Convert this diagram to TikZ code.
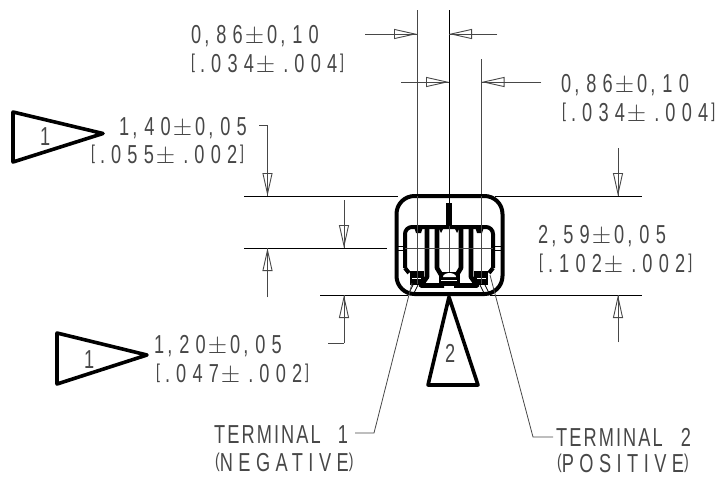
\documentclass[tikz,border=0pt]{standalone}
\usepackage{fontspec}
\setmainfont{Liberation Sans}[FakeStretch=0.7,LetterSpace=24]
\newfontfamily\termfont{Liberation Sans}[FakeStretch=0.7,LetterSpace=8]
\newfontfamily\polefont{Liberation Sans}[FakeStretch=0.7,LetterSpace=21]
\usepackage{tikz}
\usetikzlibrary{positioning}
\usetikzlibrary{arrows.meta}
\colorlet{dimcol}{black!72}
\newcommand{\brk}[1]{\raisebox{4pt}{\fontsize{20}{24}\selectfont #1}}
\newcommand{\cma}{\kern3pt,\kern7pt}
\newcommand{\dt}{\kern5pt.\kern6pt}
\newcommand{\plm}{\kern2pt$\pm$\kern3pt}
\tikzset{
  extline/.style={line width=1pt, black},
  dimline/.style={line width=0.9pt, dimcol, -{Triangle[open, length=23pt, width=10pt, line width=0.9pt]}, postaction={draw, -}},
  leader/.style={line width=0.8pt, dimcol},
  flag/.style={line width=3.6pt, line join=round, line cap=round},
  body/.style={line width=4pt, line join=round},
  dimtext/.style={anchor=base west, inner sep=0pt, text=dimcol, font=\fontsize{26}{30}\selectfont},
}

\begin{document}
\begin{tikzpicture}[x=1pt, y=-1pt]
\useasboundingbox (0,0) rectangle (723,477);

% Extension lines, vertical
\coordinate (E1) at (417,10);
\coordinate (E2) at (449,10);
\coordinate (E3) at (481.5,59);
\draw[extline, dimcol] (E1) -- (417,196);
\draw[extline] (E2) -- (449,204);
\draw[extline, dimcol] (E3) -- (481.5,196);

% Extension lines, horizontal
\draw[extline] (244,196) -- (398,196);
\draw[extline] (495,196) -- (642,196);
\draw[extline] (244,248) -- (387,248);
\draw[extline] (320,295) -- (408,295);
\draw[extline] (490,295) -- (642,295);

% Widths
\draw[dimline] (365,34) -- (E1 |- 0,34);
\draw[dimline] (497,34) -- (E2 |- 0,34);
\draw[dimline] (401,82) -- (E2 |- 0,82);
\draw[dimline] (541,82) -- (E3 |- 0,82);

% Heights
\draw[leader] (259,125) -- (267.5,125);
\draw[dimline] (267.5,125) -- (267.5,196);
\draw[dimline] (267.5,297) -- (267.5,248);
\draw[dimline] (344,200) -- (344,248);
\draw[leader] (328,343) -- (344,343);
\draw[dimline] (344,343) -- (344,295);
\draw[dimline] (618,148) -- (618,196);
\draw[dimline] (618,342) -- (618,295);

% Package outline
\draw[body, rounded corners=18pt] (396.5,196) rectangle (502.5,294);
\draw[body, rounded corners=7pt] (405,268) -- (405,227) -- (493,227) -- (493,268);

% Stem and side tabs
\draw[line width=5.5pt] (449,203) -- (449,226);
\draw[line width=1.8pt] (396,246.5) -- (405,246.5) (396,250.5) -- (405,250.5);
\draw[line width=1.8pt] (493,246.5) -- (503,246.5) (493,250.5) -- (503,250.5);

% Both halves of the inner parts
\foreach \side in {1,-1} {
  \begin{scope}[shift={(449,0)}, xscale=\side]
    \draw[body] (44,268) -- (40,273);
    \draw[body, line width=4.6pt] (22,227) -- (22,277) -- (28,285.5) -- (5,285.5);
    \draw[body, line width=4.6pt] (12,227) -- (12,268) -- (6,278);
    \fill (25,271) rectangle (39,285);
    \fill[white] (28,278) rectangle (37,279.4);
    \fill (26,227) -- (35,227) -- (33,233) -- (28,233) -- cycle;
    \fill (5,227) -- (11,227) -- (8,233) -- cycle;
    \draw[line width=0.8pt] (36,285) -- (40,293);
    \draw[line width=0.8pt] (31,285) -- (35,293);
    \draw[line width=0.8pt, dimcol] (32,196) -- (32,284);
  \end{scope}
}
\fill (439,272) -- (460,272) -- (460,286) -- (439,286) -- cycle;
\fill[white] (443,277) arc (180:360:6.5 and 4) -- cycle;
\fill[white] (441,279.5) rectangle (457,281);
\draw[extline, dimcol] (449,226) -- (449,272);
\draw[extline, dimcol] (405,248) -- (493,248);

% Flag notes
\coordinate (T1a) at (13,112);
\coordinate (T1b) at (103,133.5);
\coordinate (T1c) at (13,162);
\draw[flag] (T1a) -- (T1b) -- (T1c) -- cycle;
\node[dimtext] (flagA) at (40,145) {1};

\coordinate (T2a) at (57,333);
\coordinate (T2b) at (147,355);
\coordinate (T2c) at (57,384);
\draw[flag] (T2a) -- (T2b) -- (T2c) -- cycle;
\node[dimtext] (flagB) at (84,368) {1};

\coordinate (T3a) at (449,297);
\coordinate (T3b) at (478,385);
\coordinate (T3c) at (428,385);
\draw[flag] (T3a) -- (T3b) -- (T3c) -- cycle;
\node[dimtext] (flagC) at (445,362) {2};

% Dimension values
\node[dimtext] (widthA) at (191,43) {0\cma 86\plm 0\cma 10};
\node[dimtext] (widthAin) at (191,72) {\brk{[}\dt 034\plm\dt 004\kern3pt\brk{]}};
\node[dimtext] (widthB) at (561,92) {0\cma 86\plm 0\cma 10};
\node[dimtext] (widthBin) at (562,121) {\brk{[}\dt 034\plm\dt 004\kern3pt\brk{]}};
\node[dimtext] (heightA) at (119,135) {1\cma 40\plm 0\cma 05};
\node[dimtext] (heightAin) at (91,163) {\brk{[}\dt 055\plm\dt 002\kern3pt\brk{]}};
\node[dimtext] (heightB) at (154,353) {1\cma 20\plm 0\cma 05};
\node[dimtext] (heightBin) at (156,382) {\brk{[}\dt 047\plm\dt 002\kern3pt\brk{]}};
\node[dimtext] (heightC) at (538,243) {2\cma 59\plm 0\cma 05};
\node[dimtext] (heightCin) at (539,272) {\brk{[}\dt 102\plm\dt 002\kern3pt\brk{]}};

% Terminals
\node[dimtext] (termA) at (214,443) {\termfont TERMINAL\kern17pt 1};
\node[dimtext] (termAsub) at (215,471) {\polefont\brk{(}NEGATIVE\brk{)}};
\node[dimtext] (termB) at (556,446) {\termfont TERMINAL\kern18pt 2};
\node[dimtext] (termBsub) at (557,472) {\polefont\brk{(}POSITIVE\brk{)}};
\coordinate (L1) at (412,283);
\coordinate (L2) at (490,275);
\draw[leader] (355,433) -- (374,433) -- (L1);
\draw[leader] (553,437) -- (533,437) -- (L2);

\end{tikzpicture}
\end{document}
